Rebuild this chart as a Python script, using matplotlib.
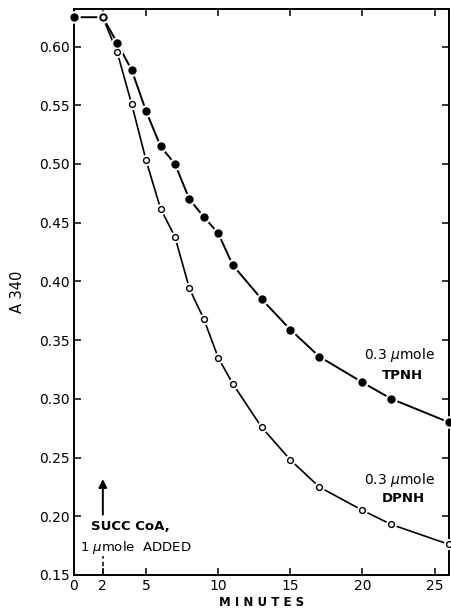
import matplotlib
matplotlib.use("Agg")
import matplotlib.pyplot as plt

# --- data ---
tpnh_min = [0, 2, 3, 4, 5, 6, 7, 8, 9, 10, 11, 13, 15, 17, 20, 22, 26]
tpnh_a340 = [0.625, 0.625, 0.603, 0.580, 0.545, 0.515, 0.500, 0.470, 0.455,
             0.441, 0.414, 0.385, 0.359, 0.336, 0.314, 0.300, 0.280]

dpnh_min = [2, 3, 4, 5, 6, 7, 8, 9, 10, 11, 13, 15, 17, 20, 22, 26]
dpnh_a340 = [0.625, 0.595, 0.551, 0.503, 0.462, 0.438, 0.394, 0.368, 0.335,
             0.313, 0.276, 0.248, 0.225, 0.205, 0.193, 0.176]

x_ticks = [0, 2, 5, 10, 15, 20, 25]
y_ticks = [0.15, 0.20, 0.25, 0.30, 0.35, 0.40, 0.45, 0.50, 0.55, 0.60]

fig = plt.figure(figsize=(4.52, 6.16), dpi=100)
ax = fig.add_axes([0.1637, 0.0666, 0.8297, 0.9188])

# lines first, then a white halo under each marker so the line breaks around it
ax.plot(tpnh_min, tpnh_a340, color="black", lw=1.4, zorder=2, clip_on=False)
ax.plot(dpnh_min, dpnh_a340, color="black", lw=1.2, zorder=2, clip_on=False)
ax.plot(tpnh_min, tpnh_a340, ls="none", marker="o", ms=8, mfc="white",
        mec="white", zorder=3, clip_on=False)
ax.plot(dpnh_min, dpnh_a340, ls="none", marker="o", ms=7, mfc="white",
        mec="white", zorder=3, clip_on=False)
ax.plot(tpnh_min, tpnh_a340, ls="none", marker="o", ms=5, mfc="black",
        mec="black", zorder=4, clip_on=False)
ax.plot(dpnh_min, dpnh_a340, ls="none", marker="o", ms=4.2, mfc="white",
        mec="black", mew=1.0, zorder=5, clip_on=False)

ax.set_xlim(0, 26)
ax.set_ylim(0.15, 0.632)
ax.set_xticks(x_ticks)
ax.set_yticks(y_ticks)
ax.set_yticklabels(["%.2f" % v for v in y_ticks])
ax.tick_params(direction="in", length=5, width=1.1, labelsize=10,
               top=True, right=True, pad=3)
for s in ax.spines.values():
    s.set_linewidth(1.4)

ax.set_xlabel("M I N U T E S", fontsize=8.5, fontweight="bold", labelpad=2)
ax.set_ylabel("A 340", fontsize=10.5, labelpad=10)

# addition of succinyl CoA at 2 min
ax.annotate("", xy=(2, 0.234), xytext=(2, 0.199),
            arrowprops=dict(arrowstyle="-|>", color="black", lw=1.4,
                            mutation_scale=12))
ax.plot([2, 2], [0.151, 0.166], color="black", lw=1.1, ls=(0, (3, 2)))
ax.text(1.2, 0.191, "SUCC CoA,", fontsize=9.5, fontweight="bold",
        va="center", ha="left")
ax.text(0.4, 0.173, "1 $\\mu$mole  ADDED", fontsize=9.5, va="center", ha="left")

ax.text(22.6, 0.337, "0.3 $\\mu$mole", fontsize=10, va="center", ha="center")
ax.text(22.8, 0.320, "TPNH", fontsize=9.5, fontweight="bold",
        va="center", ha="center")
ax.text(22.6, 0.231, "0.3 $\\mu$mole", fontsize=10, va="center", ha="center")
ax.text(22.8, 0.215, "DPNH", fontsize=9.5, fontweight="bold",
        va="center", ha="center")

fig.savefig("out.png", dpi=100)
